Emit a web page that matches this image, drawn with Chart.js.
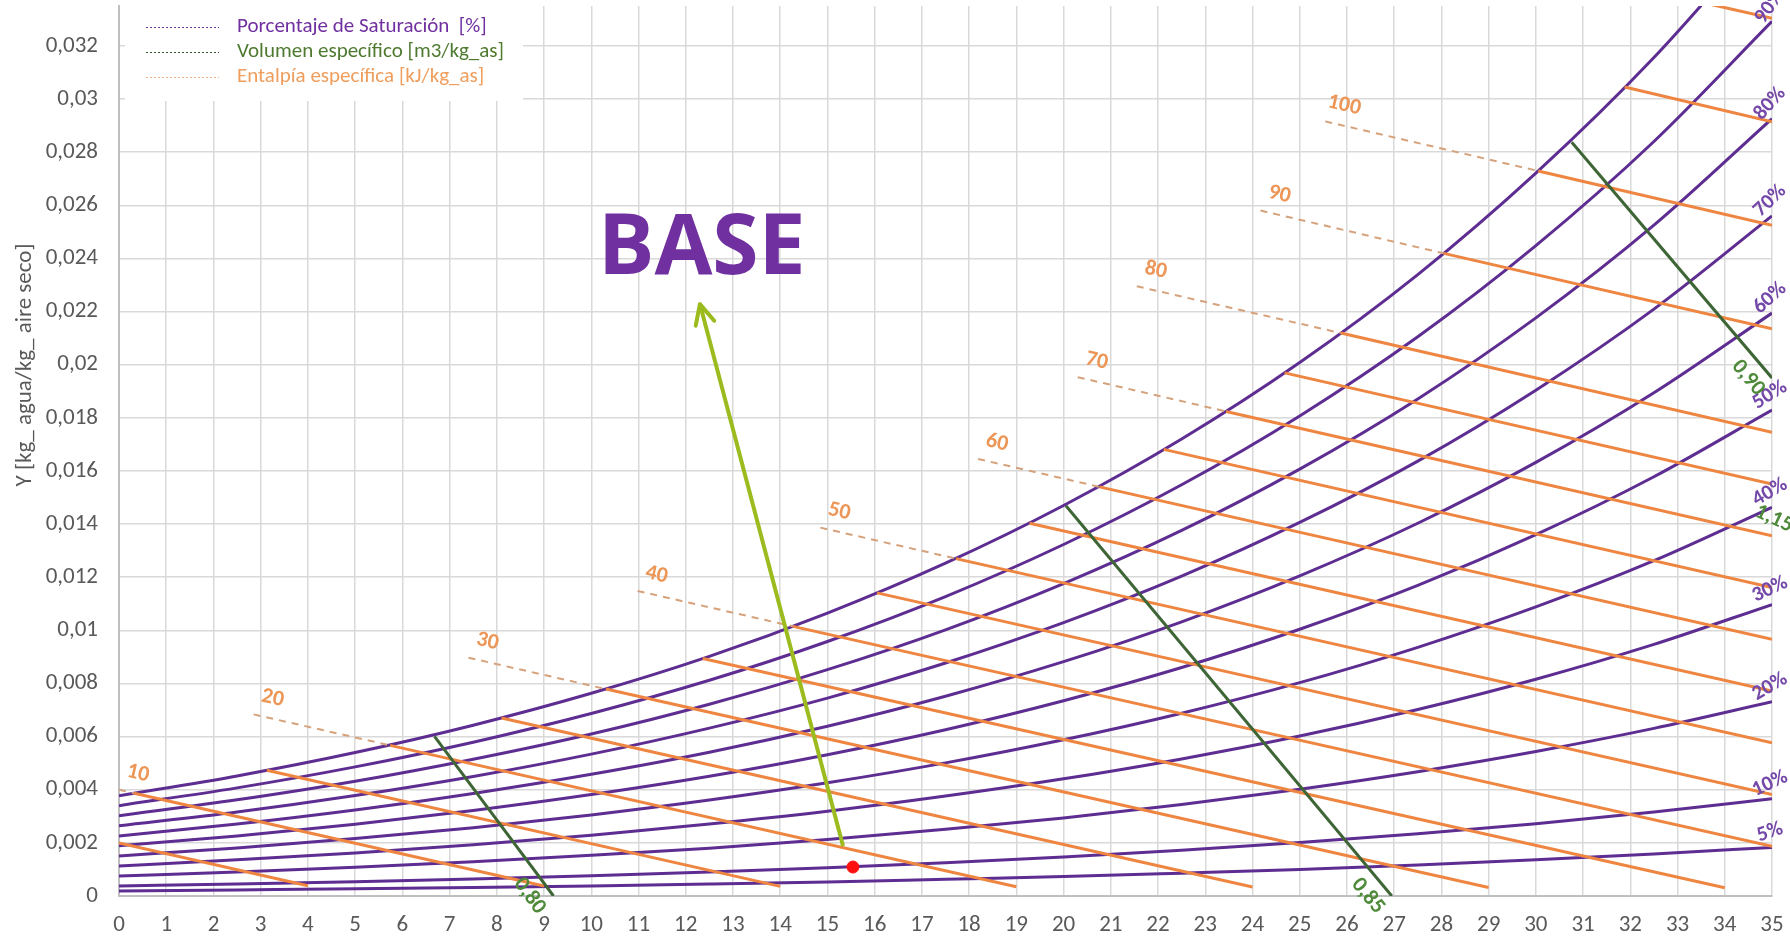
<!DOCTYPE html>
<html>
<head>
<meta charset="utf-8">
<script src="https://cdn.jsdelivr.net/npm/chart.js@4.4.1/dist/chart.umd.min.js"></script>
<style>
  html, body { margin: 0; padding: 0; background: #fff; }
  #wrap { width: 1790px; height: 936px; }
</style>
</head>
<body>
<div id="wrap"><canvas id="chart" width="1790" height="936"></canvas></div>
<script>
// dry bulb temperature [C] where the saturation curves were read
const temps = [0, 2.5, 5, 7.5, 10, 12.5, 15, 17.5, 20, 22.5, 25, 27.5, 30, 32.5, 35];

// humidity Y [kg agua / kg aire seco] of each percentage saturation curve
const rh100 = [0.00377, 0.00452, 0.00540, 0.00643, 0.00763, 0.00902, 0.01065, 0.01253, 0.01470, 0.01720, 0.02008, 0.02339, 0.02721, 0.03156, 0.03657];
const rh90  = [0.00340, 0.00407, 0.00486, 0.00579, 0.00687, 0.00812, 0.00958, 0.01127, 0.01323, 0.01548, 0.01807, 0.02105, 0.02448, 0.02840, 0.03292];
const rh80  = [0.00302, 0.00362, 0.00432, 0.00515, 0.00610, 0.00722, 0.00852, 0.01002, 0.01176, 0.01376, 0.01607, 0.01871, 0.02176, 0.02525, 0.02926];
const rh70  = [0.00264, 0.00316, 0.00378, 0.00450, 0.00534, 0.00632, 0.00745, 0.00877, 0.01029, 0.01204, 0.01406, 0.01637, 0.01904, 0.02209, 0.02560];
const rh60  = [0.00226, 0.00271, 0.00324, 0.00386, 0.00458, 0.00541, 0.00639, 0.00752, 0.00882, 0.01032, 0.01205, 0.01403, 0.01632, 0.01894, 0.02194];
const rh50  = [0.00189, 0.00226, 0.00270, 0.00322, 0.00382, 0.00451, 0.00532, 0.00626, 0.00735, 0.00860, 0.01004, 0.01169, 0.01360, 0.01578, 0.01829];
const rh40  = [0.00151, 0.00181, 0.00216, 0.00257, 0.00305, 0.00361, 0.00426, 0.00501, 0.00588, 0.00688, 0.00803, 0.00936, 0.01088, 0.01262, 0.01463];
const rh30  = [0.00113, 0.00136, 0.00162, 0.00193, 0.00229, 0.00271, 0.00319, 0.00376, 0.00441, 0.00516, 0.00602, 0.00702, 0.00816, 0.00947, 0.01097];
const rh20  = [0.00075, 0.00090, 0.00108, 0.00129, 0.00153, 0.00180, 0.00213, 0.00251, 0.00294, 0.00344, 0.00402, 0.00468, 0.00544, 0.00631, 0.00731];
const rh10  = [0.00038, 0.00045, 0.00054, 0.00064, 0.00076, 0.00090, 0.00106, 0.00125, 0.00147, 0.00172, 0.00201, 0.00234, 0.00272, 0.00316, 0.00366];
const rh5   = [0.00019, 0.00023, 0.00027, 0.00032, 0.00038, 0.00045, 0.00053, 0.00063, 0.00073, 0.00086, 0.00100, 0.00117, 0.00136, 0.00158, 0.00183];
const rhSeries = [rh5, rh10, rh20, rh30, rh40, rh50, rh60, rh70, rh80, rh90, rh100];
const rhLabels = ['5%', '10%', '20%', '30%', '40%', '50%', '60%', '70%', '80%', '90%', ''];
const rhLabelAngle = [18, 25, 30, 25, 30, 32, 42, 44, 48, 55, 0];

// enthalpy lines [kJ/kg_as]: start on the saturation curve (or the axis), end point
const hValues = [5, 10, 15, 20, 25, 30, 35, 40, 45, 50, 55, 60, 65, 70, 75, 80, 90, 100, 110, 120];
const hStartT = [0, 0.32, 3.13, 5.74, 8.1, 10.31, 12.36, 14.27, 16.05, 17.72, 19.28, 20.76, 22.12, 23.44, 24.68, 25.87, 28.05, 30.05, 31.88, 33.6];
const hStartY = [0.0020, 0.00387, 0.00473, 0.00567, 0.00670, 0.00779, 0.00894, 0.01015, 0.01141, 0.01270, 0.01403, 0.01540, 0.01681, 0.01824, 0.01969, 0.02119, 0.02419, 0.02729, 0.03045, 0.03360];
const hEndT = [4, 9, 14, 19, 24, 29, 34, 35, 35, 35, 35, 35, 35, 35, 35, 35, 35, 35, 35, 35];
const hEndY = [0.000389, 0.000376, 0.000362, 0.000349, 0.000336, 0.000323, 0.00031, 0.001867, 0.003815, 0.005764, 0.007712, 0.009661, 0.011609, 0.013558, 0.015506, 0.017454, 0.021351, 0.025248, 0.029146, 0.033042];

// dashed extensions above saturation, with their labels
const hLabelValues = [10, 20, 30, 40, 50, 60, 70, 80, 90, 100];
const hDashT = [0, 2.85, 7.4, 10.98, 14.85, 18.19, 20.3, 21.55, 24.17, 25.54];
const hDashY = [0.0040, 0.006836, 0.008970, 0.011483, 0.013866, 0.016451, 0.019529, 0.022951, 0.025800, 0.029157];

// specific volume lines [m3/kg_as]
const vLabels = ['0,80', '0,85', '0,90'];
const vStartT = [6.68, 20.05, 30.76];
const vStartY = [0.00601, 0.01469, 0.02837];
const vEndT = [9.2, 26.95, 35];
const vEndY = [0, 0, 0.0195];
const vStrayLabel = '1,15';
const vStrayT = 35.04, vStrayY = 0.01419;

// marked state and the annotation arrow
const pointT = [15.54];
const pointY = [0.00109];
const arrowT = [15.33, 12.30];
const arrowY = [0.00188, 0.02228];
const baseText = 'BASE';
const baseT = 12.34, baseY = 0.0234;

const FONT = 'Carlito, Lato, sans-serif';

function pts(xs, ys) {
    return xs.map(function (x, i) { return { x: x, y: ys[i] }; });
}

var datasets = [];
datasets.push({ data: pts(arrowT, arrowY), borderColor: '#9BBB1E', borderWidth: 4, showLine: true, pointRadius: 0 });
datasets.push({ data: pts(pointT, pointY), backgroundColor: '#FF1010', borderColor: '#FF1010', pointRadius: 6, showLine: false });
vLabels.forEach(function (l, i) {
    datasets.push({ data: [{ x: vStartT[i], y: vStartY[i] }, { x: vEndT[i], y: vEndY[i] }],
        borderColor: '#3E6535', borderWidth: 3, showLine: true, pointRadius: 0 });
});
hValues.forEach(function (h, i) {
    datasets.push({ data: [{ x: hStartT[i], y: hStartY[i] }, { x: hEndT[i], y: hEndY[i] }],
        borderColor: '#EE8641', borderWidth: 3, showLine: true, pointRadius: 0 });
});
hLabelValues.forEach(function (h, i) {
    var k = hValues.indexOf(h);
    datasets.push({ data: [{ x: hDashT[i], y: hDashY[i] }, { x: hStartT[k], y: hStartY[k] }],
        borderColor: '#D6A27C', borderWidth: 2, borderDash: [7, 6], showLine: true, pointRadius: 0 });
});
rhSeries.forEach(function (arr) {
    datasets.push({ data: pts(temps, arr), borderColor: '#5E2D91', borderWidth: 3, showLine: true,
        cubicInterpolationMode: 'monotone', pointRadius: 0 });
});

function yLabel(v) {
    if (Math.abs(v) < 1e-9) return '0';
    return String(+v.toFixed(4)).replace('.', ',');
}

const decorations = {
    id: 'decorations',
    beforeDatasetsDraw: function (chart) {
        var ctx = chart.ctx;
        ctx.save();
        ctx.fillStyle = '#ffffff';
        ctx.fillRect(125, 6, 398, 95);
        var rows = [
            ['#7030A0', '#7030A0', 'Porcentaje de Saturación  [%]'],
            ['#375623', '#4E7A30', 'Volumen específico [m3/kg_as]'],
            ['#F4B183', '#EF9E5E', 'Entalpía específica [kJ/kg_as]']
        ];
        ctx.font = '21px ' + FONT;
        ctx.textBaseline = 'middle';
        rows.forEach(function (r, i) {
            var y = 27 + i * 25;
            ctx.strokeStyle = r[0];
            ctx.lineWidth = 1;
            ctx.setLineDash([2, 2]);
            ctx.beginPath();
            ctx.moveTo(146, y + 0.5);
            ctx.lineTo(219, y + 0.5);
            ctx.stroke();
            ctx.fillStyle = r[1];
            ctx.fillText(r[2], 237, y);
        });
        ctx.restore();
    },
    afterDatasetsDraw: function (chart) {
        var ctx = chart.ctx, xs = chart.scales.x, ys = chart.scales.y;
        function px(t) { return xs.getPixelForValue(t); }
        function py(v) { return ys.getPixelForValue(v); }
        ctx.save();
        ctx.textAlign = 'center';
        ctx.textBaseline = 'middle';

        // enthalpy labels
        ctx.font = 'bold 22px ' + FONT;
        ctx.fillStyle = '#EC9657';
        hLabelValues.forEach(function (h, i) {
            var k = hValues.indexOf(h);
            var x0 = px(hDashT[i]), y0 = py(hDashY[i]);
            var a = Math.atan2(py(hStartY[k]) - y0, px(hStartT[k]) - x0);
            ctx.save();
            ctx.translate(x0 + 19, y0 - 16);
            ctx.rotate(a);
            ctx.fillText(String(h), 0, 0);
            ctx.restore();
        });

        // percentage labels at the right edge
        ctx.font = 'bold 21px ' + FONT;
        ctx.fillStyle = '#7448A8';
        rhSeries.forEach(function (arr, i) {
            if (!rhLabels[i]) return;
            var x0 = px(temps[temps.length - 1]), y0 = py(arr[arr.length - 1]);
            ctx.save();
            ctx.translate(x0 - 2, y0 - 15);
            ctx.rotate(-rhLabelAngle[i] * Math.PI / 180);
            ctx.fillText(rhLabels[i], 0, 0);
            ctx.restore();
        });

        // specific volume labels
        ctx.font = 'bold 22px ' + FONT;
        ctx.fillStyle = '#4F8A3A';
        vLabels.forEach(function (l, i) {
            var x1 = px(vEndT[i]), y1 = py(vEndY[i]);
            var a = Math.atan2(y1 - py(vStartY[i]), x1 - px(vStartT[i]));
            ctx.save();
            ctx.translate(x1 - 24, y1);
            ctx.rotate(a);
            ctx.fillText(l, 0, 0);
            ctx.restore();
        });
        ctx.save();
        ctx.translate(px(vStrayT), py(vStrayY));
        ctx.rotate(25 * Math.PI / 180);
        ctx.fillText(vStrayLabel, 0, 0);
        ctx.restore();

        // arrow head
        var ax0 = px(arrowT[0]), ay0 = py(arrowY[0]);
        var ax1 = px(arrowT[1]), ay1 = py(arrowY[1]);
        var ang = Math.atan2(ay1 - ay0, ax1 - ax0);
        ctx.strokeStyle = '#9BBB1E';
        ctx.lineWidth = 4;
        ctx.lineCap = 'round';
        ctx.lineJoin = 'round';
        ctx.beginPath();
        ctx.moveTo(ax1 - 22 * Math.cos(ang - 0.45), ay1 - 22 * Math.sin(ang - 0.45));
        ctx.lineTo(ax1, ay1);
        ctx.lineTo(ax1 - 22 * Math.cos(ang + 0.45), ay1 - 22 * Math.sin(ang + 0.45));
        ctx.stroke();

        // BASE
        ctx.font = 'bold 84px "Open Sans", ' + FONT;
        ctx.fillStyle = '#7030A0';
        ctx.textBaseline = 'alphabetic';
        ctx.fillText(baseText, px(baseT), py(baseY));

        // y axis title
        ctx.font = '23px ' + FONT;
        ctx.fillStyle = '#595959';
        ctx.textBaseline = 'middle';
        ctx.translate(25, 365);
        ctx.rotate(-Math.PI / 2);
        ctx.fillText('Y [kg_ agua/kg_ aire seco]', 0, 0);
        ctx.restore();
    }
};

var ctx = document.getElementById('chart').getContext('2d');
var chart = new Chart(ctx, {
    type: 'scatter',
    data: { datasets: datasets },
    options: {
        responsive: false,
        animation: false,
        events: [],
        layout: { autoPadding: false, padding: { top: 6, right: 18, left: 0, bottom: 0 } },
        elements: { point: { radius: 0 }, line: { tension: 0 } },
        plugins: { legend: { display: false }, tooltip: { enabled: false } },
        scales: {
            x: {
                type: 'linear', min: 0, max: 35,
                ticks: { stepSize: 1, color: '#595959', font: { family: FONT, size: 23 }, padding: 15 },
                grid: { color: '#D9D9D9', lineWidth: 1.5, drawTicks: false },
                border: { color: '#BFBFBF', width: 2 },
                afterFit: function (s) {
                    s.height = 40;
                    s.paddingLeft = 0; s.paddingRight = 0;
                }
            },
            y: {
                type: 'linear', min: 0, max: 0.0335,
                ticks: { stepSize: 0.002, includeBounds: false, color: '#595959',
                    font: { family: FONT, size: 23 }, padding: 21, callback: yLabel },
                grid: { color: '#D9D9D9', lineWidth: 1.5, drawTicks: false },
                border: { color: '#BFBFBF', width: 2 },
                afterFit: function (s) {
                    s.width = 119;
                    s.paddingTop = 0; s.paddingBottom = 0;
                }
            }
        }
    },
    plugins: [decorations]
});
</script>
</body>
</html>
